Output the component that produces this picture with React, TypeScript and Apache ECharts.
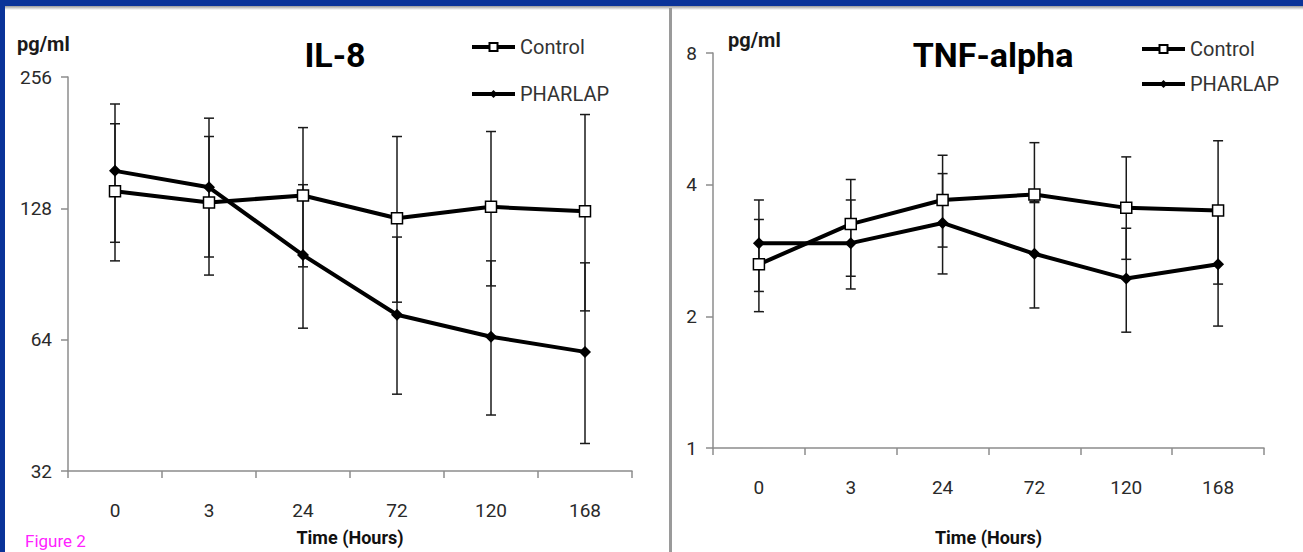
import React, { useEffect, useRef } from "react";
import * as echarts from "echarts";

// ---- data ----
const hours = ["0", "3", "24", "72", "120", "168"];

const il8Control = [140, 132, 137, 121.5, 129, 126];
const il8ControlHigh = [200, 187, 196, 187, 192, 210];
const il8ControlLow = [97, 90, 94, 78, 85, 74.5];
const il8Pharlap = [156, 143, 100, 73, 65, 60];
const il8PharlapHigh = [222, 206, 145, 110, 97, 96];
const il8PharlapLow = [107, 99, 68, 48, 43, 37];

const tnfControl = [2.63, 3.25, 3.69, 3.8, 3.54, 3.49];
const tnfControlHigh = [3.33, 4.11, 4.67, 4.99, 4.63, 5.04];
const tnfControlLow = [2.05, 2.47, 2.88, 3.66, 2.7, 2.37];
const tnfPharlap = [2.94, 2.94, 3.27, 2.78, 2.44, 2.63];
const tnfPharlapHigh = [3.69, 3.69, 4.24, 3.64, 3.18, 3.49];
const tnfPharlapLow = [2.28, 2.31, 2.5, 2.09, 1.84, 1.9];

const il8Range = [32, 256];
const tnfRange = [1, 8];

const FONT = "Roboto, 'Noto Sans', sans-serif";

const errRender = (params: any, api: any) => {
  const i = api.value(0);
  const lo = api.coord([i, api.value(1)]);
  const hi = api.coord([i, api.value(2)]);
  const w = 5;
  const st = { stroke: "#1a1a1a", lineWidth: 1.5 };
  return {
    type: "group",
    children: [
      { type: "line", shape: { x1: lo[0], y1: lo[1], x2: hi[0], y2: hi[1] }, style: st },
      { type: "line", shape: { x1: lo[0] - w, y1: lo[1], x2: lo[0] + w, y2: lo[1] }, style: st },
      { type: "line", shape: { x1: hi[0] - w, y1: hi[1], x2: hi[0] + w, y2: hi[1] }, style: st },
    ],
  };
};

const errData = (low: number[], high: number[]) => low.map((l, i) => [i, l, high[i]]);

const controlStyle = {
  symbol: "rect",
  symbolSize: 11,
  itemStyle: { color: "#ffffff", borderColor: "#000", borderWidth: 1.5 },
  lineStyle: { color: "#000", width: 4 },
};
const pharlapStyle = {
  symbol: "diamond",
  symbolSize: 12,
  itemStyle: { color: "#000", borderColor: "#000", borderWidth: 0 },
  lineStyle: { color: "#000", width: 4 },
};

const makeXAxis = (gridIndex: number, nameGap: number) => ({
  type: "category",
  gridIndex,
  data: hours,
  boundaryGap: true,
  axisLine: { lineStyle: { color: "#8c8c8c", width: 1.5 } },
  axisTick: { show: true, length: 7, inside: false, lineStyle: { color: "#8c8c8c", width: 1.5 } },
  axisLabel: { color: "#2a2a2a", fontSize: 19, fontFamily: FONT, margin: 30 },
  name: "Time (Hours)",
  nameLocation: "middle",
  nameGap,
  nameTextStyle: { color: "#111", fontSize: 18, fontWeight: "bold", fontFamily: FONT },
  splitLine: { show: false },
});

const makeYAxis = (gridIndex: number, range: number[]) => ({
  type: "log",
  logBase: 2,
  gridIndex,
  min: range[0],
  max: range[1],
  axisLine: { show: true, lineStyle: { color: "#8c8c8c", width: 1.5 } },
  axisTick: { show: true, length: 7, lineStyle: { color: "#8c8c8c", width: 1.5 } },
  axisLabel: { color: "#2a2a2a", fontSize: 19, fontFamily: FONT, margin: 16 },
  splitLine: { show: false },
});

const makeLegend = (name: string, left: number, top: number) => ({
  data: [name],
  left,
  top,
  padding: 0,
  itemWidth: 43,
  itemHeight: 10,
  selectedMode: false,
  lineStyle: { width: 4, color: "#000" },
  textStyle: { color: "#333", fontSize: 20, fontFamily: FONT },
});

export default function App() {
  const ref = useRef<HTMLDivElement>(null);
  useEffect(() => {
    if (!ref.current) return;
    const chart = echarts.init(ref.current, undefined, { renderer: "svg" });
    const option: any = {
      animation: false,
      backgroundColor: "#ffffff",
      grid: [
        { left: 68, top: 77, width: 564, height: 394 },
        { left: 713, top: 53, width: 551, height: 395 },
      ],
      xAxis: [makeXAxis(0, 57), makeXAxis(1, 80)],
      yAxis: [makeYAxis(0, il8Range), makeYAxis(1, tnfRange)],
      legend: [
        makeLegend("Control", 470, 37),
        makeLegend("PHARLAP", 470, 84),
        makeLegend("Control", 1140, 39),
        makeLegend("PHARLAP", 1140, 74),
      ],
      graphic: [
        { type: "rect", shape: { x: 0, y: 0, width: 1303, height: 6 }, style: { fill: "#0a3399" }, z: 100 },
        {
          type: "rect",
          shape: { x: 0, y: 6, width: 1303, height: 4 },
          style: {
            fill: new echarts.graphic.LinearGradient(0, 0, 0, 1, [
              { offset: 0, color: "#9a9a9a" },
              { offset: 1, color: "#ffffff" },
            ]),
          },
          z: 100,
        },
        { type: "rect", shape: { x: 0, y: 0, width: 5, height: 552 }, style: { fill: "#0a3399" }, z: 100 },
        { type: "rect", shape: { x: 669, y: 8, width: 3, height: 544 }, style: { fill: "#9a9a9a" }, z: 100 },
        {
          type: "text",
          x: 17,
          y: 44,
          style: { text: "pg/ml", font: `bold 20px ${FONT}`, fill: "#1a1a1a", verticalAlign: "middle" },
        },
        {
          type: "text",
          x: 728,
          y: 40,
          style: { text: "pg/ml", font: `bold 20px ${FONT}`, fill: "#1a1a1a", verticalAlign: "middle" },
        },
        {
          type: "text",
          x: 335,
          y: 55,
          style: { text: "IL-8", font: `bold 34px ${FONT}`, fill: "#000", align: "center", verticalAlign: "middle" },
        },
        {
          type: "text",
          x: 993,
          y: 55,
          style: { text: "TNF-alpha", font: `bold 34px ${FONT}`, fill: "#000", align: "center", verticalAlign: "middle" },
        },
        {
          type: "text",
          x: 25,
          y: 541,
          style: { text: "Figure 2", font: `17px ${FONT}`, fill: "#ff22ff", verticalAlign: "middle" },
        },
      ],
      series: [
        {
          type: "custom",
          name: "IL-8 Control SD",
          xAxisIndex: 0,
          yAxisIndex: 0,
          renderItem: errRender,
          encode: { x: 0, y: [1, 2] },
          data: errData(il8ControlLow, il8ControlHigh),
          z: 1,
        },
        {
          type: "custom",
          name: "IL-8 PHARLAP SD",
          xAxisIndex: 0,
          yAxisIndex: 0,
          renderItem: errRender,
          encode: { x: 0, y: [1, 2] },
          data: errData(il8PharlapLow, il8PharlapHigh),
          z: 1,
        },
        {
          type: "custom",
          name: "TNF Control SD",
          xAxisIndex: 1,
          yAxisIndex: 1,
          renderItem: errRender,
          encode: { x: 0, y: [1, 2] },
          data: errData(tnfControlLow, tnfControlHigh),
          z: 1,
        },
        {
          type: "custom",
          name: "TNF PHARLAP SD",
          xAxisIndex: 1,
          yAxisIndex: 1,
          renderItem: errRender,
          encode: { x: 0, y: [1, 2] },
          data: errData(tnfPharlapLow, tnfPharlapHigh),
          z: 1,
        },
        { type: "line", name: "PHARLAP", xAxisIndex: 0, yAxisIndex: 0, data: il8Pharlap, z: 3, ...pharlapStyle },
        { type: "line", name: "Control", xAxisIndex: 0, yAxisIndex: 0, data: il8Control, z: 4, ...controlStyle },
        { type: "line", name: "PHARLAP", xAxisIndex: 1, yAxisIndex: 1, data: tnfPharlap, z: 3, ...pharlapStyle },
        { type: "line", name: "Control", xAxisIndex: 1, yAxisIndex: 1, data: tnfControl, z: 4, ...controlStyle },
      ],
    };
    chart.setOption(option);
    return () => chart.dispose();
  }, []);
  return (
    <div
      ref={ref}
      style={{ position: "absolute", left: 0, top: 0, width: 1303, height: 552, background: "#fff" }}
    />
  );
}
